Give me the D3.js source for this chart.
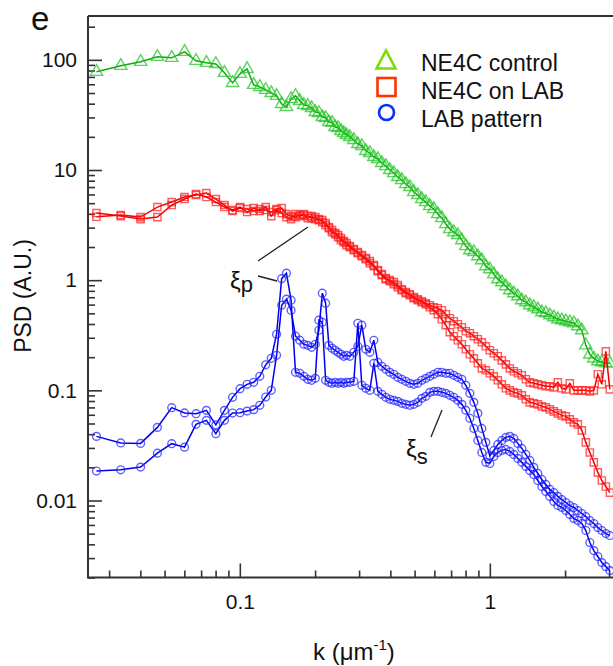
<!DOCTYPE html>
<html>
<head>
<meta charset="utf-8">
<script src="https://cdn.jsdelivr.net/npm/d3@7"></script>
<style>
  body { margin: 0; background: #fff; }
  svg { display: block; }
  text { font-family: "Liberation Sans", Arial, Helvetica, sans-serif; fill: #111; }
</style>
</head>
<body>
<svg id="chart" width="613" height="666"></svg>
<script>
// Spatial frequency k (µm^-1) shared by all spectra
const kValues = [0.0267, 0.0334, 0.0401, 0.0468, 0.0534, 0.0601, 0.0668, 0.0735, 0.0802, 0.0868,
  0.0935, 0.1002, 0.1069, 0.1136, 0.1202, 0.1269, 0.1336, 0.1403, 0.1470, 0.1536,
  0.1603, 0.1670, 0.1737, 0.1804, 0.1870, 0.1937, 0.2004, 0.2071, 0.2138, 0.2204,
  0.2271, 0.2338, 0.2405, 0.2472, 0.2538, 0.2605, 0.2672,
  0.2754, 0.2858, 0.2965, 0.3076, 0.3192, 0.3311, 0.3436, 0.3565, 0.3698, 0.3837,
  0.3981, 0.4130, 0.4285, 0.4446, 0.4613, 0.4786, 0.4966, 0.5152, 0.5346, 0.5546,
  0.5754, 0.5970, 0.6194, 0.6427, 0.6668, 0.6918, 0.7178, 0.7447, 0.7727, 0.8017,
  0.8318, 0.8630, 0.8954, 0.9290, 0.9638, 1.000, 1.0375, 1.0765, 1.1169, 1.1588,
  1.2023, 1.2474, 1.2942, 1.3428, 1.3932, 1.4454, 1.4997, 1.5560, 1.6144, 1.6749,
  1.7378, 1.8030, 1.8707, 1.9409, 2.0137, 2.0893, 2.1677, 2.2491, 2.3335, 2.4210,
  2.5119, 2.6062, 2.7040, 2.8054, 2.9107, 3.0200];

// NE4C control
const psdControl = [77.8, 88.2, 95.9, 106.5, 104.3, 118.2, 97.9, 93.9, 91.9, 76.2,
  61.8, 74.6, 82.8, 59.3, 56.8, 53.4, 50.1, 47.1, 39.8, 37.4,
  44.2, 47.1, 42.4, 39.0, 38.2, 36.6, 33.7, 33.0, 30.3, 29.7,
  27.3, 26.8, 24.6, 24.1, 22.6, 21.7, 20.8,
  19.95, 18.74, 17.23, 16.53, 14.89, 14.27, 13.13, 12.59, 11.58, 10.87,
  10.0, 9.39, 8.64, 8.11, 7.46, 7.01, 6.31, 5.93, 5.45, 5.12,
  4.71, 4.42, 3.98, 3.66, 3.23, 2.91, 2.73, 2.57, 2.31, 2.04,
  1.87, 1.80, 1.65, 1.52, 1.34, 1.26, 1.13, 1.02, 0.959, 0.882,
  0.811, 0.762, 0.715, 0.658, 0.631, 0.592, 0.568, 0.545, 0.512, 0.501,
  0.481, 0.461, 0.442, 0.433, 0.424, 0.415, 0.406, 0.382, 0.351, 0.256,
  0.212, 0.195, 0.184, 0.180, 0.176, 0.176];

// NE4C on LAB, two samples
const psdOnLab1 = [3.762, 3.899, 3.738, 4.609, 5.118, 5.682, 5.926, 6.179, 5.449, 4.806,
  4.240, 4.514, 4.421, 4.240, 4.421, 4.329, 4.152, 4.421, 4.514, 3.981,
  3.818, 3.738, 3.899, 3.981, 3.818, 3.661, 3.738, 3.585, 3.368, 3.298,
  2.970, 2.848, 2.619, 2.460, 2.409, 2.215, 2.080,
  1.995, 1.874, 1.797, 1.688, 1.585, 1.488, 1.369, 1.233, 1.134, 1.043,
  1.0, 0.959, 0.901, 0.828, 0.778, 0.746, 0.701, 0.672, 0.644, 0.618,
  0.592, 0.568, 0.556, 0.534, 0.491, 0.451, 0.424, 0.398, 0.374, 0.344,
  0.330, 0.310, 0.291, 0.273, 0.251, 0.231, 0.217, 0.204, 0.187, 0.172,
  0.158, 0.149, 0.143, 0.137, 0.126, 0.1182, 0.1158, 0.1134, 0.1111, 0.1088,
  0.1088, 0.1065, 0.1182, 0.1043, 0.1021, 0.1158, 0.1, 0.1, 0.1, 0.1,
  0.0979, 0.1, 0.140, 0.1134, 0.226, 0.1021];
const psdOnLab2 = [4.066, 3.818, 3.585, 3.738, 4.806, 5.449, 6.050, 5.682, 5.118, 4.609,
  4.329, 4.609, 4.152, 4.514, 4.240, 4.609, 3.818, 4.329, 4.066, 3.738,
  3.585, 3.981, 3.818, 3.899, 3.661, 3.818, 3.585, 3.511, 3.511, 3.162,
  3.032, 2.732, 2.675, 2.565, 2.310, 2.262, 2.170,
  2.037, 1.913, 1.760, 1.653, 1.552, 1.427, 1.341, 1.207, 1.110, 1.021,
  0.979, 0.920, 0.864, 0.811, 0.762, 0.731, 0.686, 0.658, 0.631, 0.605,
  0.568, 0.534, 0.491, 0.442, 0.390, 0.337, 0.310, 0.285, 0.262, 0.236,
  0.2125, 0.1954, 0.176, 0.158, 0.152, 0.143, 0.1341, 0.1233, 0.1134, 0.1043,
  0.1, 0.0959, 0.0939, 0.0901, 0.0829, 0.0778, 0.0762, 0.0746, 0.0715, 0.0701,
  0.0672, 0.0644, 0.0618, 0.0592, 0.0580, 0.0545, 0.0512, 0.0491, 0.0433, 0.0337,
  0.0273, 0.0222, 0.0180, 0.0152, 0.0134, 0.0118];

// LAB pattern, two samples
const psdPattern1 = [0.0382, 0.0333, 0.0330, 0.0461, 0.0696, 0.0624, 0.0614, 0.0658, 0.0486, 0.0658,
  0.0864, 0.1036, 0.1134, 0.1182, 0.1341, 0.1705, 0.1954, 0.3229, 1.032, 1.158,
  0.658, 0.1458, 0.1427, 0.1341, 0.1259, 0.1233, 0.1285, 0.433, 0.415, 0.1233,
  0.1182, 0.1158, 0.1182, 0.1158, 0.1182, 0.1158, 0.1182,
  0.1182, 0.1207, 0.4065, 0.1111, 0.1043, 0.1, 0.176, 0.0979, 0.0920, 0.0864,
  0.0829, 0.0811, 0.0794, 0.0762, 0.0746, 0.0731, 0.0746, 0.0778, 0.0846, 0.0882,
  0.0959, 0.0979, 0.0979, 0.0959, 0.0939, 0.0901, 0.0864, 0.0811, 0.0746, 0.0658,
  0.0557, 0.0451, 0.0351, 0.0273, 0.0222, 0.0217, 0.0251, 0.0273, 0.0285, 0.0291,
  0.0279, 0.0262, 0.0241, 0.0222, 0.0204, 0.0187, 0.0172, 0.0152, 0.0134, 0.0121,
  0.0109, 0.00979, 0.00901, 0.00864, 0.00811, 0.00746, 0.00686, 0.00658, 0.00618, 0.00534,
  0.00415, 0.00351, 0.00310, 0.00273, 0.00251, 0.00231];
const psdPattern2 = [0.0185, 0.0190, 0.0201, 0.0269, 0.0328, 0.0305, 0.0491, 0.0534, 0.0404, 0.0534,
  0.0622, 0.0627, 0.0648, 0.0668, 0.0731, 0.0869, 0.1, 0.208, 0.592, 0.672,
  0.534, 0.310, 0.285, 0.262, 0.256, 0.246, 0.262, 0.351, 0.762, 0.618,
  0.256, 0.241, 0.231, 0.2215, 0.2125, 0.2038, 0.208,
  0.2038, 0.2215, 0.2512, 0.390, 0.2359, 0.2215, 0.2848, 0.1797, 0.1653, 0.1552,
  0.1458, 0.1398, 0.1313, 0.1259, 0.1207, 0.1158, 0.1134, 0.1158, 0.1233, 0.1285,
  0.1341, 0.1398, 0.1458, 0.1458, 0.1427, 0.1427, 0.1369, 0.1313, 0.1259, 0.1111,
  0.0939, 0.0778, 0.0618, 0.0451, 0.0337, 0.0256, 0.0285, 0.0323, 0.0351, 0.0374,
  0.0382, 0.0366, 0.0330, 0.0297, 0.0262, 0.0231, 0.0200, 0.0176, 0.0155, 0.0140,
  0.0126, 0.0118, 0.0109, 0.0102, 0.00959, 0.00901, 0.00864, 0.00811, 0.00762, 0.00715,
  0.00658, 0.00618, 0.00568, 0.00534, 0.00501, 0.00481];

const yMajorTicks = [0.01, 0.1, 1, 10, 100];
const xMajorTicks = [0.1, 1];
const legendLabels = ["NE4C control", "NE4C on LAB", "LAB pattern"];

const svg = d3.select("#chart");
const plotLeft = 88, plotTop = 16, plotBottom = 577.5, plotRight = 613;

const x = d3.scaleLog().domain([0.0247, 3.6])
  .range([plotLeft, plotLeft + 250 * Math.log10(3.6 / 0.0247)]);
const y = d3.scaleLog().domain([0.002, 250]).range([plotBottom, plotTop]);

// minor ticks at 2..9 of every decade inside the given range
function minorTicks(domain) {
  const out = [];
  for (let e = -4; e <= 3; e++) {
    for (let m = 2; m <= 9; m++) {
      const v = +(m * Math.pow(10, e)).toPrecision(6);
      if (v >= domain[0] && v <= domain[1]) out.push(v);
    }
  }
  return out;
}

const axisColor = "#333";

// y axis ticks (drawn inward)
const gyMinor = svg.append("g").attr("transform", `translate(${plotLeft},0)`)
  .call(d3.axisLeft(y).tickValues(minorTicks(y.domain())).tickSize(-7).tickFormat(""));
const gyMajor = svg.append("g").attr("transform", `translate(${plotLeft},0)`)
  .call(d3.axisLeft(y).tickValues(yMajorTicks).tickSize(-14).tickPadding(11)
    .tickFormat(d3.format("~g")));

// x axis ticks (drawn inward)
const gxMinor = svg.append("g").attr("transform", `translate(0,${plotBottom})`)
  .call(d3.axisBottom(x).tickValues(minorTicks([0.025, 3.5])).tickSize(-7).tickFormat(""));
const gxMajor = svg.append("g").attr("transform", `translate(0,${plotBottom})`)
  .call(d3.axisBottom(x).tickValues(xMajorTicks).tickSize(-14).tickPadding(16.5)
    .tickFormat(d3.format("~g")));

[gyMinor, gyMajor, gxMinor, gxMajor].forEach(g => {
  g.select(".domain").remove();
  g.selectAll(".tick line").attr("stroke", axisColor).attr("stroke-width", 1.6);
  g.selectAll(".tick text").attr("font-size", 21).attr("fill", "#111")
    .attr("font-family", '"Liberation Sans", Arial, sans-serif');
});

// frame: left axis, bottom axis, top border
svg.append("path")
  .attr("d", `M${plotLeft},${plotTop}V${plotBottom}H${plotRight}M${plotLeft},${plotTop}H${plotRight}`)
  .attr("fill", "none").attr("stroke", axisColor).attr("stroke-width", 2);

// data
svg.append("clipPath").attr("id", "plotClip").append("rect")
  .attr("x", plotLeft + 1).attr("y", plotTop + 1)
  .attr("width", plotRight - plotLeft).attr("height", plotBottom - plotTop - 1);
const plot = svg.append("g").attr("clip-path", "url(#plotClip)");

const series = [
  { values: psdControl, symbol: d3.symbolTriangle, size: 66, marker: "#1cc41c", line: "#12a812" },
  { values: psdOnLab1, symbol: d3.symbolSquare, size: 52, marker: "#ff1c1c", line: "#f00000" },
  { values: psdOnLab2, symbol: d3.symbolSquare, size: 52, marker: "#ff1c1c", line: "#f00000" },
  { values: psdPattern1, symbol: d3.symbolCircle, size: 48, marker: "#2222ff", line: "#0000f0" },
  { values: psdPattern2, symbol: d3.symbolCircle, size: 48, marker: "#2222ff", line: "#0000f0" }
];

const line = d3.line().x(d => x(d.k)).y(d => y(d.v));

series.forEach(s => {
  const pts = s.values.map((v, i) => ({ k: kValues[i], v }))
    .filter(d => d.k != null && d.v != null);
  plot.append("path").datum(pts).attr("d", line)
    .attr("fill", "none").attr("stroke", s.line).attr("stroke-width", 1.5);
  plot.append("g").selectAll("path").data(pts).join("path")
    .attr("transform", d => `translate(${x(d.k)},${y(d.v)})`)
    .attr("d", d3.symbol(s.symbol, s.size))
    .attr("fill", "none").attr("stroke", s.marker)
    .attr("stroke-opacity", 0.72).attr("stroke-width", 1.4);
});

// annotations for the pattern periods
svg.append("path").attr("d", "M258,261L308,227M258,276L277,281")
  .attr("stroke", "#222").attr("stroke-width", 1.3).attr("fill", "none");
svg.append("path").attr("d", "M431,437L442,410")
  .attr("stroke", "#222").attr("stroke-width", 1.3).attr("fill", "none");

const xiP = svg.append("text").attr("x", 230).attr("y", 289).attr("font-size", 24);
xiP.append("tspan").text("ξ");
xiP.append("tspan").attr("dy", 3).attr("font-size", 22).text("p");
const xiS = svg.append("text").attr("x", 406).attr("y", 457).attr("font-size", 24);
xiS.append("tspan").text("ξ");
xiS.append("tspan").attr("dy", 7).attr("font-size", 22).text("s");

// legend
const legend = svg.append("g");
legend.append("path").attr("d", "M386,50.5L376.5,68.5H395.5Z")
  .attr("fill", "none").attr("stroke", "#7ddc00").attr("stroke-width", 2.6);
legend.append("rect").attr("x", 377.5).attr("y", 78).attr("width", 18).attr("height", 18)
  .attr("fill", "none").attr("stroke", "#ff3300").attr("stroke-width", 2.6);
legend.append("circle").attr("cx", 386.5).attr("cy", 112.5).attr("r", 7.5)
  .attr("fill", "none").attr("stroke", "#0030ff").attr("stroke-width", 2.6);
legendLabels.forEach((t, i) => {
  legend.append("text").attr("x", 421).attr("y", 70.5 + 28 * i).attr("font-size", 23).text(t);
});

// panel letter and axis titles
svg.append("text").attr("x", 31).attr("y", 30).attr("font-size", 33).text("e");
svg.append("text").attr("transform", "translate(31,296) rotate(-90)")
  .attr("text-anchor", "middle").attr("font-size", 23).text("PSD (A.U.)");
const xt = svg.append("text").attr("x", 313).attr("y", 660).attr("font-size", 24);
xt.append("tspan").text("k (μm");
xt.append("tspan").attr("dy", -10).attr("font-size", 15).text("-1");
xt.append("tspan").attr("dy", 10).text(")");
</script>
</body>
</html>
